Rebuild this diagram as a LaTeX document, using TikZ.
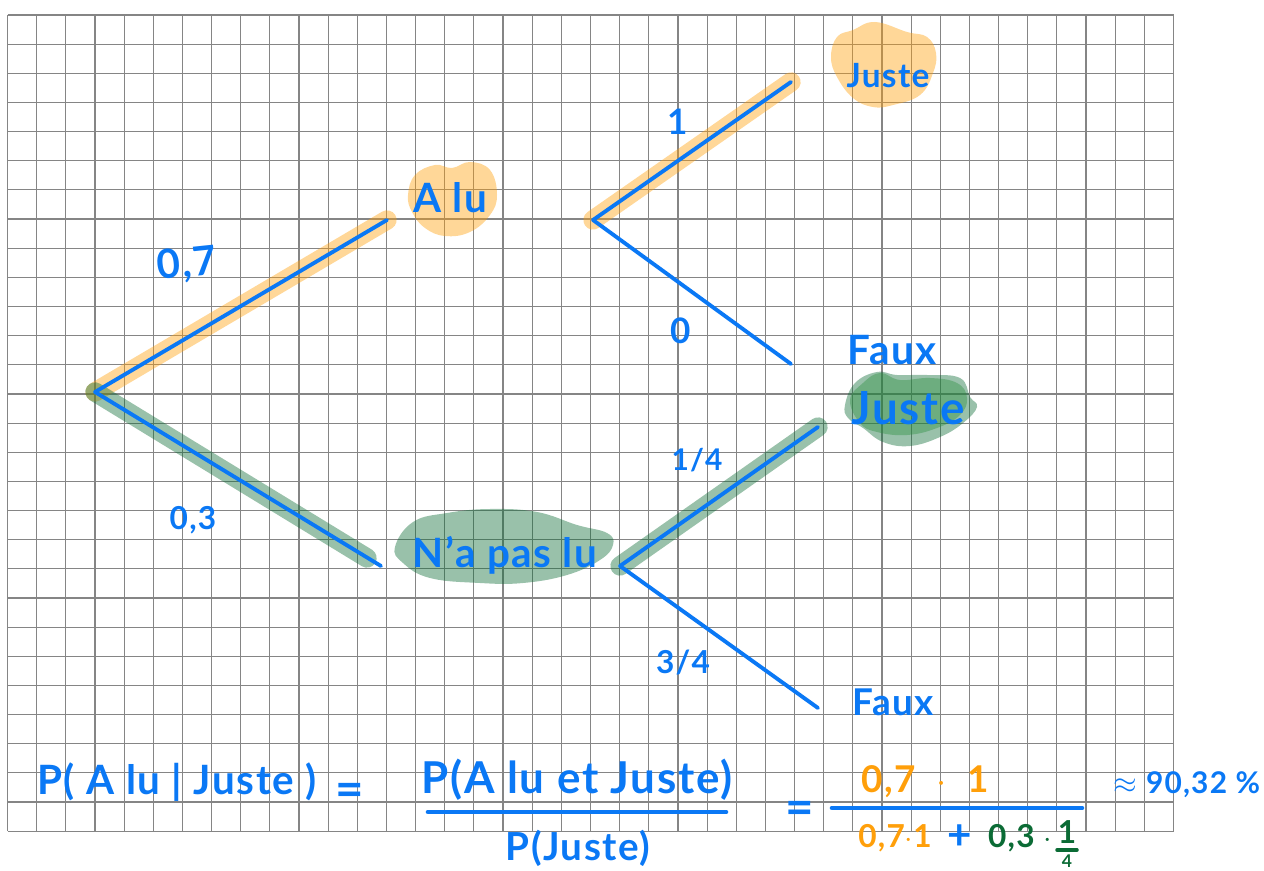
\documentclass[tikz,border=0pt]{standalone}
\usepackage{fontspec}
\setmainfont[LetterSpace=4]{Lato}
\definecolor{ink-blue}{HTML}{0A78F5}
\definecolor{ink-orange}{HTML}{FF9F0A}
\definecolor{ink-green}{HTML}{0B6B35}
\definecolor{ink-leaf}{HTML}{2D8F3E}
\definecolor{grid-gray}{HTML}{858585}
\tikzset{
  gridline/.style={color=grid-gray, line width=0.65pt},
  hand/.style={font=\fontsize{#1}{20}\selectfont\bfseries, inner sep=0pt},
  hand/.default=17,
  branch/.style={color=ink-blue, line width=2.2pt, line cap=round},
  bar/.style={color=ink-blue, line width=2.6pt, line cap=round},
  markorange/.style={color=ink-orange, opacity=0.42, line width=11pt, line cap=round},
  markgreen/.style={color=ink-green, opacity=0.42, line width=11pt, line cap=round},
  bloborange/.style={fill=ink-orange, opacity=0.42},
  blobgreen/.style={fill=ink-green, opacity=0.42},
  blobleaf/.style={fill=ink-leaf, opacity=0.4}
}
\begin{document}
\begin{tikzpicture}[x=0.02cm, y=-0.02cm]
    \useasboundingbox (0,0) rectangle (1264,871);
    % squared paper
    \foreach \i in {0,...,40}
      \draw[gridline] ({7.5+29.15*\i},15) -- ({7.5+29.15*\i},831);
    \foreach \j in {0,...,28}
      \draw[gridline] (7.5,{15+29.15*\j}) -- (1173.5,{15+29.15*\j});

    % free ends of the branches
    \coordinate (root) at (95,392);
    \coordinate (aluEnd) at (387,220);
    \coordinate (nonEnd) at (381,566);
    \coordinate (nonMark) at (367,558);
    \coordinate (aluFork) at (593,220);
    \coordinate (aluJuste) at (791,82);
    \coordinate (aluFaux) at (791,364);
    \coordinate (nonFork) at (620,566);
    \coordinate (nonJuste) at (818,427);
    \coordinate (nonFaux) at (818,708);

    % highlighter
    \fill[bloborange] plot[smooth cycle, tension=0.7] coordinates {(875,22) (907,32) (927,37) (936,53)
      (933,73) (920,95) (893,105) (873,107) (853,98) (837,77) (831,57) (837,37) (853,30)};
    \fill[bloborange] plot[smooth cycle, tension=0.7] coordinates {(408,195) (415,175) (435,165) (452,168)
      (470,162) (490,170) (497,195) (490,215) (470,232) (445,236) (425,228) (412,212)};
    \fill[blobgreen] plot[smooth cycle, tension=0.7] coordinates {(395,547) (413,522) (447,513) (490,509)
      (537,512) (577,525) (607,533) (613,545) (600,560) (567,575) (523,583) (480,583) (430,578) (403,563)};
    \fill[blobgreen] plot[smooth cycle, tension=0.7] coordinates {(845,405) (855,383) (877,372) (897,375)
      (927,375) (960,378) (970,397) (977,407) (963,423) (940,437) (910,446) (883,442) (863,428) (848,418)};
    \fill[blobleaf] plot[smooth cycle, tension=0.7] coordinates {(850,400) (863,383) (880,373) (900,380)
      (930,378) (957,383) (967,398) (960,415) (937,428) (907,435) (877,432) (860,423)};
    \draw[markorange] (root) -- (aluEnd);
    \draw[markgreen] (root) -- (nonMark);
    \draw[markorange] (aluFork) -- (aluJuste);
    \draw[markgreen] (nonFork) -- (nonJuste);

    % tree
    \draw[branch] (root) -- (aluEnd);
    \draw[branch] (root) -- (nonEnd);
    \draw[branch] (aluFork) -- (aluJuste);
    \draw[branch] (aluFork) -- (aluFaux);
    \draw[branch] (nonFork) -- (nonJuste);
    \draw[branch] (nonFork) -- (nonFaux);

    \node[hand=23, text=ink-blue, rotate=6] (pAlu) at (187,265) {0,7};
    \node[hand=18, text=ink-blue] (pNon) at (193,520) {0,3};
    \node[hand=20, text=ink-blue] (pJuste) at (678,122) {1};
    \node[hand=20, text=ink-blue] (pFaux) at (681,331) {0};
    \node[hand=17, text=ink-blue] (qJuste) at (697,460) {1/4};
    \node[hand=18, text=ink-blue] (qFaux) at (683,662) {3/4};
    \node[hand=23, text=ink-blue] (alu) at (450,198) {A lu};
    \node[hand=19, text=ink-blue] (juste) at (888,76) {Juste};
    \node[hand=23, text=ink-blue] (faux) at (892,350) {Faux};
    \node[hand=26, text=ink-blue] (justeB) at (908,408) {Juste};
    \node[hand=23, text=ink-blue] (non) at (505,555) {N'a pas lu};
    \node[hand=21, text=ink-blue] (fauxB) at (893,702) {Faux};

    % formula
    \node[hand=23, text=ink-blue] (cond) at (177,782) {P( A lu | Juste )};
    \node[hand=28, text=ink-blue] (eqA) at (350,795) {=};
    \node[hand=25, text=ink-blue] (numA) at (577,780) {P(A lu et Juste)};
    \coordinate (barAl) at (428,812);
    \coordinate (barAr) at (726,812);
    \draw[bar] (barAl) -- (barAr);
    \node[hand=22, text=ink-blue] (denA) at (578,848) {P(Juste)};
    \node[hand=28, text=ink-blue] (eqB) at (800,813) {=};
    \node[hand=21, text=ink-orange] (numB) at (925,782) {0,7 \ $\cdot$ \ 1};
    \coordinate (barBl) at (832,808);
    \coordinate (barBr) at (1082,808);
    \draw[bar] (barBl) -- (barBr);
    \node[hand=18, text=ink-orange] (denB) at (895,838) {0,7$\cdot$1};
    \node[hand=24, text=ink-blue] (plus) at (960,837) {+};
    \node[hand=18, text=ink-green] (denC) at (1020,838) {0,3 $\cdot$};
    \node[hand=18, text=ink-green] (oneC) at (1067,832) {1};
    \coordinate (barCl) at (1057,850);
    \coordinate (barCr) at (1077,850);
    \draw[color=ink-green, line width=2pt, line cap=round] (barCl) -- (barCr);
    \node[hand=10, text=ink-green] (fourC) at (1067,861) {4};
    \node[hand=17, text=ink-blue] (res) at (1187,785) {$\approx$ 90,32 \%};
  \end{tikzpicture}
\end{document}
